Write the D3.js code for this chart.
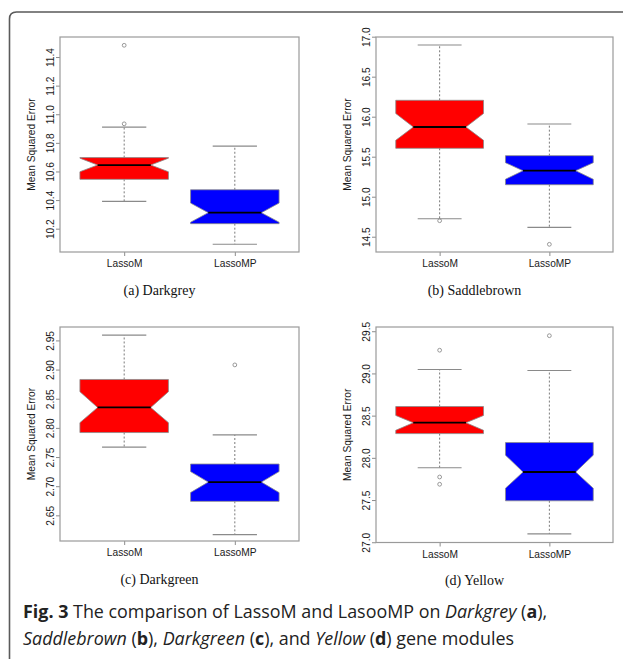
<!DOCTYPE html>
<html>
<head>
<meta charset="utf-8">
<script src="https://cdn.jsdelivr.net/npm/d3@7"></script>
<style>
  body { margin: 0; background: #fff; }
  svg { display: block; }
</style>
</head>
<body>
<div id="chart"></div>
<script>
// Set up conventions
let width = 623;
let height = 659;

// categories
const groups = ["LassoM", "LassoMP"];
const panelLabels = ["(a) Darkgrey", "(b) Saddlebrown", "(c) Darkgreen", "(d) Yellow"];

// box stats per group: lower whisker, q1, notch low, median, notch high, q3, upper whisker
const darkgreyStats = [
    [10.391, 10.545, 10.598, 10.645, 10.693, 10.697, 10.910],
    [10.091, 10.235, 10.245, 10.312, 10.379, 10.472, 10.777]
];
const darkgreyOutliers = [[10.933, 11.482], []];

const saddlebrownStats = [
    [14.725, 15.605, 15.705, 15.871, 16.040, 16.205, 16.896],
    [14.617, 15.150, 15.218, 15.325, 15.425, 15.513, 15.909]
];
const saddlebrownOutliers = [[14.700], [14.405]];

const darkgreenStats = [
    [2.767, 2.792, 2.809, 2.835, 2.862, 2.883, 2.959],
    [2.617, 2.674, 2.689, 2.707, 2.725, 2.738, 2.788]
];
const darkgreenOutliers = [[], [2.908]];

const yellowStats = [
    [27.882, 28.287, 28.326, 28.416, 28.502, 28.608, 29.047],
    [27.099, 27.491, 27.640, 27.832, 28.032, 28.181, 29.035]
];
const yellowOutliers = [[29.275, 27.773, 27.687], [29.447]];

// y tick labels
const darkgreyTicks = [10.2, 10.4, 10.6, 10.8, 11.0, 11.2, 11.4];
const saddlebrownTicks = [14.5, 15.0, 15.5, 16.0, 16.5, 17.0];
const darkgreenTicks = [2.65, 2.70, 2.75, 2.80, 2.85, 2.90, 2.95];
const yellowTicks = [27.0, 27.5, 28.0, 28.5, 29.0, 29.5];

// y extents of each plot region
const darkgreyExtent = [10.037, 11.54];
const saddlebrownExtent = [14.309, 16.996];
const darkgreenExtent = [2.606, 2.973];
const yellowExtent = [26.997, 29.55];

const boxColors = ["#ff0000", "#0000ff"];

// panels built from the arrays above
let panels = [
    {label: panelLabels[0], stats: darkgreyStats, outliers: darkgreyOutliers, ticks: darkgreyTicks, extent: darkgreyExtent, fmt: ".1f",
     x0: 60, x1: 299, y0: 37, y1: 252},
    {label: panelLabels[1], stats: saddlebrownStats, outliers: saddlebrownOutliers, ticks: saddlebrownTicks, extent: saddlebrownExtent, fmt: ".1f",
     x0: 376, x1: 613, y0: 37, y1: 252},
    {label: panelLabels[2], stats: darkgreenStats, outliers: darkgreenOutliers, ticks: darkgreenTicks, extent: darkgreenExtent, fmt: ".2f",
     x0: 60, x1: 299, y0: 327, y1: 541},
    {label: panelLabels[3], stats: yellowStats, outliers: yellowOutliers, ticks: yellowTicks, extent: yellowExtent, fmt: ".1f",
     x0: 376, x1: 613, y0: 327, y1: 542.5}
];

let svg = d3.select("#chart")
    .append("svg")
    .attr("width", width)
    .attr("height", height)

// outer frame of the figure
svg.append("path")
    .attr("d", "M9.5,659 L9.5,19 Q9.5,12 16.5,12 L623,12")
    .attr("fill", "none")
    .attr("stroke", "#5a5a5a")
    .attr("stroke-width", 1.6)

let axisGrey = "#8c8c8c";
let textColor = "#1a1a1a";
let labelFont = "Liberation Sans, Arial, sans-serif";

panels.forEach(p => {
    let g = svg.append("g")

    let xScale = d3.scalePoint()
        .domain(groups)
        .range([p.x0, p.x1])
        .padding(0.58)

    let yScale = d3.scaleLinear()
        .domain(p.extent)
        .range([p.y1, p.y0])

    let boxW = xScale.step() * 0.8
    let notchFrac = 0.6

    // y axis
    let yAxis = d3.axisLeft(yScale)
        .tickValues(p.ticks)
        .tickFormat(d3.format(p.fmt))
        .tickSize(4)

    let ya = g.append("g")
        .attr("transform", "translate(" + p.x0 + ",0)")
        .call(yAxis)
    ya.select(".domain").remove()
    ya.selectAll("line").attr("stroke", axisGrey)
    ya.selectAll("text")
        .attr("x", 0)
        .attr("y", -6)
        .attr("dy", 0)
        .attr("transform", "rotate(-90)")
        .style("text-anchor", "middle")
        .style("font-family", labelFont)
        .style("font-size", "10.2px")
        .attr("fill", textColor)

    // x axis
    let xAxis = d3.axisBottom(xScale).tickSize(4)
    let xa = g.append("g")
        .attr("transform", "translate(0," + p.y1 + ")")
        .call(xAxis)
    xa.select(".domain").remove()
    xa.selectAll("line").attr("stroke", axisGrey)
    xa.selectAll("text")
        .attr("y", 15)
        .attr("dy", 0)
        .style("font-family", labelFont)
        .style("font-size", "10.2px")
        .attr("fill", textColor)

    // plot frame
    g.append("rect")
        .attr("x", p.x0)
        .attr("y", p.y0)
        .attr("width", p.x1 - p.x0)
        .attr("height", p.y1 - p.y0)
        .attr("fill", "none")
        .attr("stroke", "#9a9a9a")
        .attr("stroke-width", 1.2)

    // y label
    g.append("text")
        .attr("transform", "translate(" + (p.x0 - 25) + "," + ((p.y0 + p.y1) / 2) + ") rotate(-90)")
        .style("text-anchor", "middle")
        .style("font-family", labelFont)
        .style("font-size", "10.2px")
        .attr("fill", textColor)
        .text("Mean Squared Error")

    // boxes
    groups.forEach((grp, i) => {
        let s = p.stats[i]
        let cx = xScale(grp)
        let w = boxW / 2

        // whiskers (dashed)
        g.append("line")
            .attr("x1", cx).attr("x2", cx)
            .attr("y1", yScale(s[5])).attr("y2", yScale(s[6]))
            .attr("stroke", "#7a7a7a")
            .attr("stroke-dasharray", "2,2")
        g.append("line")
            .attr("x1", cx).attr("x2", cx)
            .attr("y1", yScale(s[1])).attr("y2", yScale(s[0]))
            .attr("stroke", "#7a7a7a")
            .attr("stroke-dasharray", "2,2")

        // staples
        ;[s[0], s[6]].forEach(v => {
            g.append("line")
                .attr("x1", cx - w / 2).attr("x2", cx + w / 2)
                .attr("y1", yScale(v)).attr("y2", yScale(v))
                .attr("stroke", "#8a8a8a")
                .attr("stroke-width", 1.1)
        })

        // notched box
        let pts = [
            [cx - w, s[1]], [cx + w, s[1]], [cx + w, s[2]], [cx + w * notchFrac, s[3]],
            [cx + w, s[4]], [cx + w, s[5]], [cx - w, s[5]], [cx - w, s[4]],
            [cx - w * notchFrac, s[3]], [cx - w, s[2]]
        ]
        let line = d3.line()
            .x(d => d[0])
            .y(d => yScale(d[1]))
        g.append("path")
            .attr("d", line(pts) + "Z")
            .attr("fill", boxColors[i])
            .attr("stroke", "#8a8a8a")
            .attr("stroke-width", 0.8)

        // median
        g.append("line")
            .attr("x1", cx - w * notchFrac).attr("x2", cx + w * notchFrac)
            .attr("y1", yScale(s[3])).attr("y2", yScale(s[3]))
            .attr("stroke", "#000")
            .attr("stroke-width", 1.8)

        // outliers
        g.selectAll(null)
            .data(p.outliers[i])
            .enter()
            .append("circle")
            .attr("cx", cx)
            .attr("cy", d => yScale(d))
            .attr("r", 1.9)
            .attr("fill", "none")
            .attr("stroke", "#808080")
            .attr("stroke-width", 0.8)
    })

    // panel caption
    g.append("text")
        .attr("x", (p.x0 + p.x1) / 2 - 20)
        .attr("y", p.y1 + 42.5)
        .style("text-anchor", "middle")
        .style("font-family", "Liberation Serif, Times New Roman, serif")
        .style("font-size", "14px")
        .attr("fill", "#111")
        .text(p.label)
})

// figure caption
let capLines = [
    [["Fig. 3", "b"], [" The comparison of LassoM and LasooMP on ", ""], ["Darkgrey", "i"], [" (", ""], ["a", "b"], ["),", ""]],
    [["Saddlebrown", "i"], [" (", ""], ["b", "b"], ["), ", ""], ["Darkgreen", "i"], [" (", ""], ["c", "b"],
     ["), and ", ""], ["Yellow", "i"], [" (", ""], ["d", "b"], [") gene modules", ""]]
]
capLines.forEach((parts, li) => {
    let t = svg.append("text")
        .attr("x", 23)
        .attr("y", 617.5 + li * 27.5)
        .style("font-family", "Open Sans, Noto Sans, sans-serif")
        .style("font-size", "17.9px")
        .attr("fill", "#222")
    parts.forEach(pt => {
        t.append("tspan")
            .style("font-weight", pt[1] == "b" ? "bold" : "normal")
            .style("font-style", pt[1] == "i" ? "italic" : "normal")
            .text(pt[0])
    })
})
</script>
</body>
</html>
